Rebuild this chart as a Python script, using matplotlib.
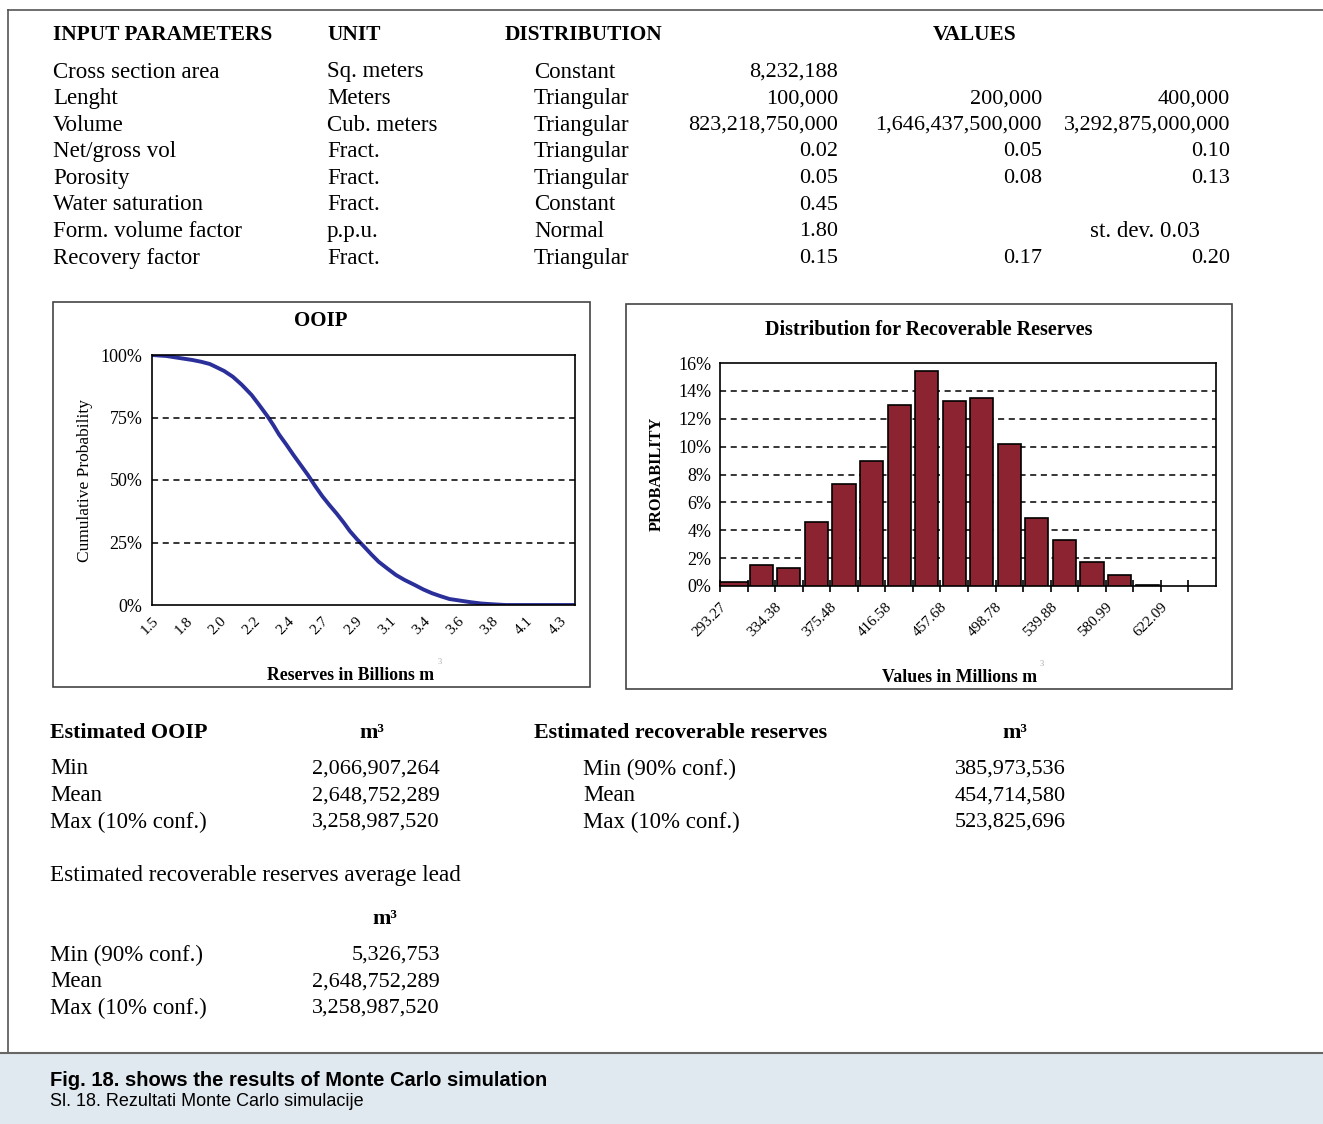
import matplotlib.pyplot as plt
import numpy as np
from matplotlib.patches import Rectangle

W, H = 1323, 1124

# input parameter table
params = ["Cross section area", "Lenght", "Volume", "Net/gross vol", "Porosity",
          "Water saturation", "Form. volume factor", "Recovery factor"]
units = ["Sq. meters", "Meters", "Cub. meters", "Fract.", "Fract.", "Fract.", "p.p.u.", "Fract."]
dists = ["Constant", "Triangular", "Triangular", "Triangular", "Triangular",
         "Constant", "Normal", "Triangular"]
val_min = ["8,232,188", "100,000", "823,218,750,000", "0.02", "0.05", "0.45", "1.80", "0.15"]
val_mode = ["", "200,000", "1,646,437,500,000", "0.05", "0.08", "", "", "0.17"]
val_max = ["", "400,000", "3,292,875,000,000", "0.10", "0.13", "", "", "0.20"]

# OOIP cumulative curve (billions m3, % above)
ooip_x = [1.50, 1.60, 1.70, 1.78, 1.84, 1.90, 1.94, 2.00, 2.06, 2.12, 2.19, 2.24, 2.30,
          2.34, 2.38, 2.43, 2.48, 2.53, 2.58, 2.63, 2.68, 2.73, 2.78, 2.83, 2.87, 2.92,
          2.97, 3.02, 3.07, 3.13, 3.19, 3.25, 3.32, 3.38, 3.44, 3.50, 3.56, 3.64, 3.71,
          3.78, 3.83, 3.90, 3.95, 4.43]
ooip_p = [100, 99.6, 98.7, 98.0, 97.3, 96.4, 95.3, 93.6, 91.3, 88.2, 84.0, 80.2, 75.5,
          72.0, 68.2, 64.2, 60.0, 56.0, 52.0, 47.6, 43.5, 39.9, 36.5, 32.8, 29.6, 26.3,
          23.3, 20.2, 17.3, 14.6, 12.0, 10.0, 8.0, 6.2, 4.7, 3.5, 2.4, 1.7, 1.1,
          0.6, 0.4, 0.15, 0.0, 0.0]
ooip_ticks = ["1.5", "1.8", "2.0", "2.2", "2.4", "2.7", "2.9", "3.1", "3.4", "3.6", "3.8", "4.1", "4.3"]

# recoverable reserves histogram (millions m3)
bin_start = 293.27
bin_width = 20.55
hist_vals = [0.3, 1.5, 1.3, 4.6, 7.3, 9.0, 13.0, 15.4, 13.3, 13.5, 10.2, 4.9, 3.3, 1.7, 0.8, 0.1]
n_bins = 18
hist_labels = ["293.27", "334.38", "375.48", "416.58", "457.68", "498.78", "539.88", "580.99", "622.09"]

ooip_rows = [("Min", "2,066,907,264"), ("Mean", "2,648,752,289"), ("Max (10% conf.)", "3,258,987,520")]
rec_rows = [("Min (90% conf.)", "385,973,536"), ("Mean", "454,714,580"), ("Max (10% conf.)", "523,825,696")]
lead_rows = [("Min (90% conf.)", "5,326,753"), ("Mean", "2,648,752,289"), ("Max (10% conf.)", "3,258,987,520")]

SERIF = "Liberation Serif"
SANS = "Liberation Sans"

fig = plt.figure(figsize=(W / 100, H / 100), dpi=100)


def t(x, y, s, size=16.5, bold=False, ha="left", family=SERIF, **kw):
    fig.text(x / W, 1 - y / H, s, fontsize=size, fontweight="bold" if bold else "normal",
             ha=ha, va="center", family=family, **kw)


def box(x0, y0, x1, y1, **kw):
    fig.patches.append(Rectangle((x0 / W, 1 - y1 / H), (x1 - x0) / W, (y1 - y0) / H,
                                 transform=fig.transFigure, **kw))


# frame and caption band
box(0, 1053, W, H + 2, facecolor="#e0e8f0", edgecolor="none")
fig.add_artist(plt.Line2D([8 / W, 1], [1 - 10 / H] * 2, color="#555555", lw=1.2, transform=fig.transFigure))
fig.add_artist(plt.Line2D([8 / W] * 2, [1 - 10 / H, 1 - 1053 / H], color="#555555", lw=1.2, transform=fig.transFigure))
fig.add_artist(plt.Line2D([0, 1], [1 - 1053 / H] * 2, color="#666666", lw=1.5, transform=fig.transFigure))

# table
t(53, 35, "INPUT PARAMETERS", 15.4, True)
t(327, 35, "UNIT", 15.4, True)
t(505, 35, "DISTRIBUTION", 15.4, True)
t(975, 35, "VALUES", 15.4, True, ha="center")
for i in range(len(params)):
    y = 72 + i * 26.6
    t(53, y, params[i])
    t(327, y, units[i])
    t(534, y, dists[i])
    t(838, y, val_min[i], ha="right", size=16)
    t(1042, y, val_mode[i], ha="right", size=16)
    t(1230, y, val_max[i], ha="right", size=16)
t(1200, 72 + 6 * 26.6, "st. dev. 0.03", ha="right")

# chart boxes
box(53, 302, 590, 687, fill=False, edgecolor="#444444", lw=1.2)
box(626, 304, 1232, 689, fill=False, edgecolor="#444444", lw=1.2)

# OOIP chart
ax1 = fig.add_axes([152 / W, 1 - 605 / H, 423 / W, 250 / H])
ax1.plot(ooip_x, ooip_p, color="#2b2f9a", lw=2.8)
ax1.set_xlim(1.5, 4.43)
ax1.set_ylim(0, 100)
step = (4.43 - 1.5) / 12.44
ax1.set_xticks([1.5 + k * step for k in range(len(ooip_ticks))])
ax1.set_xticklabels(ooip_ticks, rotation=45, ha="right", rotation_mode="anchor",
                    fontsize=11, family=SERIF)
ax1.set_yticks([0, 25, 50, 75, 100])
ax1.set_yticklabels(["0%", "25%", "50%", "75%", "100%"], fontsize=13, family=SERIF)
ax1.tick_params(length=0, pad=7)
for v in [25, 50, 75]:
    ax1.axhline(v, color="black", ls=(0, (4, 3)), lw=1.1)
for s in ax1.spines.values():
    s.set_linewidth(1.2)
t(321, 321, "OOIP", 15, True, ha="center")
fig.text(85 / W, 1 - 480 / H, "Cumulative Probability", rotation=90, fontsize=12.5,
         family=SERIF, ha="center", va="center")
t(351, 676, "Reserves in Billions m", 12.8, True, ha="center")
t(438, 662, "3", 6, color="#aaaaaa")

# histogram
ax2 = fig.add_axes([720 / W, 1 - 586 / H, 496 / W, 223 / H])
centers = [bin_start + (k + 0.5) * bin_width for k in range(len(hist_vals))]
widths = [bin_width if k == 0 else bin_width * 0.84 for k in range(len(hist_vals))]
ax2.bar(centers, hist_vals, width=widths, color="#8b2430", edgecolor="black", lw=1.2, zorder=3)
ax2.set_xlim(bin_start, bin_start + n_bins * bin_width)
ax2.set_ylim(0, 16)
ax2.set_xticks([bin_start + k * bin_width for k in range(n_bins)])
ax2.set_xticklabels([hist_labels[k // 2] if k % 2 == 0 and k // 2 < len(hist_labels) else ""
                     for k in range(n_bins)],
                    rotation=45, ha="right", rotation_mode="anchor", fontsize=11, family=SERIF)
ax2.set_yticks(range(0, 17, 2))
ax2.set_yticklabels([f"{v}%" for v in range(0, 17, 2)], fontsize=13, family=SERIF)
ax2.tick_params(axis="x", direction="inout", length=8, width=1.2, pad=6)
ax2.tick_params(axis="y", length=0, pad=6)
for v in range(2, 15, 2):
    ax2.axhline(v, color="black", ls=(0, (4, 3)), lw=1.1, zorder=1)
for s in ax2.spines.values():
    s.set_linewidth(1.2)
t(929, 330, "Distribution for Recoverable Reserves", 14.5, True, ha="center")
fig.text(657 / W, 1 - 474 / H, "PROBABILITY", rotation=90, fontsize=11.8, fontweight="bold",
         family=SERIF, ha="center", va="center")
t(960, 677, "Values in Millions m", 12.8, True, ha="center")
t(1040, 664, "3", 6, color="#aaaaaa")

# results
t(50, 733, "Estimated OOIP", 15.8, True)
t(372, 733, "m³", 15.8, True, ha="center")
t(534, 733, "Estimated recoverable reserves", 15.8, True)
t(1015, 733, "m³", 15.8, True, ha="center")
for i in range(3):
    y = 769 + i * 26.6
    t(50, y, ooip_rows[i][0])
    t(440, y, ooip_rows[i][1], ha="right", size=16)
    t(583, y, rec_rows[i][0])
    t(1066, y, rec_rows[i][1], ha="right", size=16)
t(50, 876, "Estimated recoverable reserves average lead", 16.7)
t(385, 919, "m³", 15.8, True, ha="center")
for i in range(3):
    y = 955 + i * 26.6
    t(50, y, lead_rows[i][0])
    t(440, y, lead_rows[i][1], ha="right", size=16)

# caption
t(50, 1080, "Fig. 18. shows the results of Monte Carlo simulation", 14.5, True, family=SANS)
t(50, 1102, "Sl. 18. Rezultati Monte Carlo simulacije", 13, family=SANS)

fig.savefig("out.png", dpi=100)
